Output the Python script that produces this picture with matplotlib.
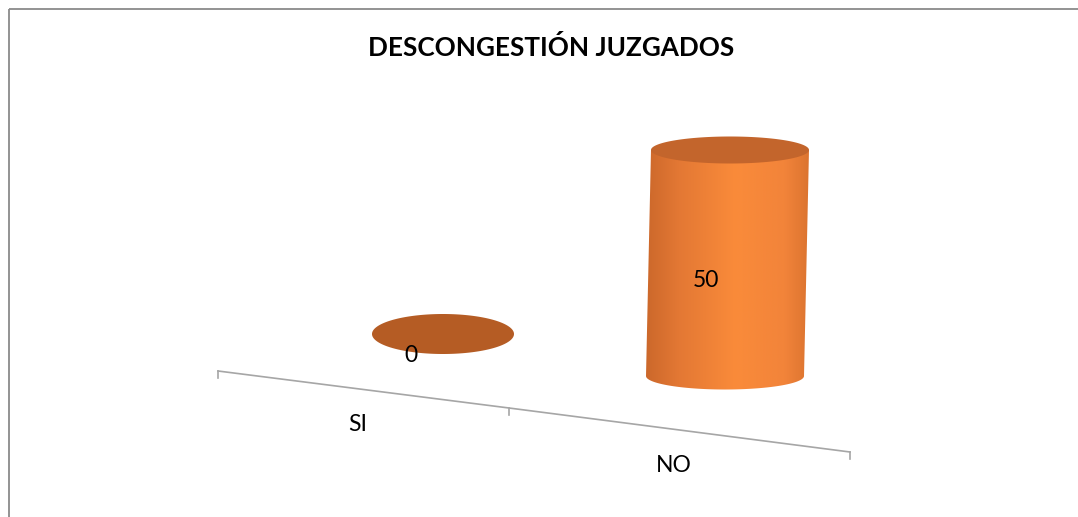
import numpy as np
import matplotlib
matplotlib.use("Agg")
import matplotlib.pyplot as plt
from matplotlib.patches import Polygon
from matplotlib.colors import LinearSegmentedColormap

# ---------------- data ----------------
title = "DESCONGESTIÓN JUZGADOS"
categories = ["SI", "NO"]
values = [0, 50]

# ---------------- layout (canvas pixels) ----------------
W, H = 1078, 517
base_x = [443, 725]      # bottom centre of each cylinder
base_y = [334, 376]
rx = [71, 79]            # horizontal radius
ry = [20, 13.5]          # vertical (depth) radius
px_per_unit = 4.52       # vertical pixels per value unit
lean = 0.10              # perspective lean of the cylinder axis
floor_x = [218, 509, 850]
floor_y = [371, 408, 452]

FONT = ["Lato", "DejaVu Sans"]

fig = plt.figure(figsize=(W / 100, H / 100), dpi=100)
ax = fig.add_axes([0, 0, 1, 1])
ax.set_xlim(0, W)
ax.set_ylim(H, 0)
ax.axis("off")

# border (top and left visible)
ax.plot([9, W], [9, 9], color="#8a8a8a", lw=1.3, solid_capstyle="butt")
ax.plot([9, 9], [9, H], color="#8a8a8a", lw=1.3, solid_capstyle="butt")

# title
ax.text(551, 48, title, ha="center", va="center", fontsize=18.8,
        fontweight="bold", family=FONT, color="#000000")

# floor axis
ax.plot(floor_x, floor_y, color="#a6a6a6", lw=1.2)
for fx, fy in zip(floor_x, floor_y):
    ax.plot([fx, fx], [fy, fy + 7], color="#a6a6a6", lw=1.2)
for i, cat in enumerate(categories):
    mx = (floor_x[i] + floor_x[i + 1]) / 2 - 6
    my = (floor_y[i] + floor_y[i + 1]) / 2 + 35
    ax.text(mx, my, cat, ha="center", va="center", fontsize=16.5,
            family=FONT, color="#000000")

body_cmap = LinearSegmentedColormap.from_list(
    "body",
    [(0.0, "#cc682b"), (0.2, "#e37834"), (0.55, "#fa8b3a"),
     (0.85, "#f2843a"), (1.0, "#dc7430")])
top_color = "#c3652c"
disk_color = "#b55c24"

t = np.linspace(0, 2 * np.pi, 200)
for i, v in enumerate(values):
    cx0, cy0 = base_x[i], base_y[i]
    a, b = rx[i], ry[i]
    cx1 = cx0 + lean * v
    cy1 = cy0 - px_per_unit * v
    if v > 0:
        # body outline: left edge down, lower half of base ellipse, right edge up
        s = np.linspace(0, np.pi, 100)
        xs = cx0 - a * np.cos(s)
        ys = cy0 + b * np.sin(s)
        pts = [(cx1 - a, cy1)] + list(zip(xs, ys)) + [(cx1 + a, cy1)]
        body = Polygon(pts, closed=True, facecolor="none", edgecolor="none")
        ax.add_patch(body)
        grad = np.linspace(0, 1, 256).reshape(1, -1)
        im = ax.imshow(grad, cmap=body_cmap, aspect="auto",
                       extent=[min(cx0, cx1) - a, max(cx0, cx1) + a,
                               cy0 + b + 2, cy1 - 2],
                       interpolation="bicubic", zorder=2)
        im.set_clip_path(body)
        # top ellipse
        top = Polygon(np.column_stack([cx1 + a * np.cos(t), cy1 + b * np.sin(t)]),
                      closed=True, facecolor=top_color, edgecolor="none", zorder=3)
        ax.add_patch(top)
        lx = (cx0 + cx1) / 2 - 0.27 * a
        ly = (cy0 + cy1) / 2 + 1.3 * b
    else:
        disk = Polygon(np.column_stack([cx0 + a * np.cos(t), cy0 + b * np.sin(t)]),
                       closed=True, facecolor=disk_color, edgecolor="none", zorder=3)
        ax.add_patch(disk)
        lx = cx0 - 0.45 * a
        ly = cy0 + 1.05 * b
    ax.text(lx, ly, f"{v}", ha="center", va="center", fontsize=16.5,
            family=FONT, color="#000000", zorder=5)

fig.savefig("out.png", dpi=100)
